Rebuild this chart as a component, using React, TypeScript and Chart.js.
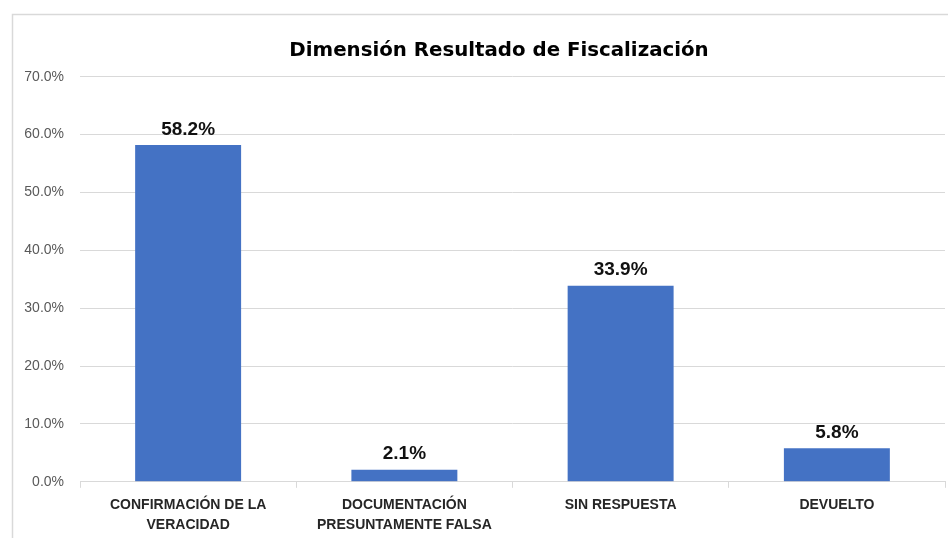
import React, { useEffect, useRef } from "react";
import { Chart, registerables } from "chart.js";

Chart.register(...registerables);

const categories: string[][] = [
  ["CONFIRMACIÓN DE LA", "VERACIDAD"],
  ["DOCUMENTACIÓN", "PRESUNTAMENTE FALSA"],
  ["SIN RESPUESTA"],
  ["DEVUELTO"],
];
const values: number[] = [58.2, 2.1, 33.9, 5.8];
const yTicks: number[] = [0, 10, 20, 30, 40, 50, 60, 70];
const titleText = "Dimensión Resultado de Fiscalización";

const CANVAS_W = 986;
const CANVAS_H = 543;

const framePlugin = {
  id: "frame",
  beforeDraw(chart: any) {
    const ctx = chart.ctx;
    ctx.save();
    ctx.fillStyle = "#ffffff";
    ctx.fillRect(0, 0, chart.width, chart.height);
    ctx.strokeStyle = "#d9d9d9";
    ctx.lineWidth = 1.5;
    ctx.beginPath();
    ctx.moveTo(12.5, chart.height);
    ctx.lineTo(12.5, 14.5);
    ctx.lineTo(chart.width, 14.5);
    ctx.stroke();
    ctx.restore();
  },
};

const dataLabelPlugin = {
  id: "dataLabels",
  afterDatasetsDraw(chart: any) {
    const ctx = chart.ctx;
    const meta = chart.getDatasetMeta(0);
    ctx.save();
    ctx.font = "bold 19px 'Liberation Sans', Arial, sans-serif";
    ctx.fillStyle = "#111111";
    ctx.textAlign = "center";
    ctx.textBaseline = "bottom";
    meta.data.forEach((bar: any, i: number) => {
      ctx.fillText(values[i].toFixed(1) + "%", bar.x, bar.y - 6);
    });
    ctx.restore();
  },
};

export default function App() {
  const ref = useRef<HTMLCanvasElement | null>(null);
  useEffect(() => {
    if (!ref.current) return;
    const chart = new Chart(ref.current, {
      type: "bar",
      data: {
        labels: categories,
        datasets: [
          {
            data: values,
            backgroundColor: "#4472C4",
            borderWidth: 0,
            categoryPercentage: 1,
            barPercentage: 0.49,
          },
        ],
      },
      options: {
        responsive: false,
        animation: false,
        devicePixelRatio: 1,
        layout: { padding: { left: 12, right: 0, top: 0, bottom: 0 } },
        plugins: {
          legend: { display: false },
          tooltip: { enabled: false },
          title: {
            display: true,
            text: titleText,
            color: "#000000",
            font: { family: "'DejaVu Sans', sans-serif", size: 19.8, weight: "bold", lineHeight: 1.2 },
            padding: { top: 39, bottom: 14 },
          },
        },
        scales: {
          x: {
            grid: {
              offset: true,
              drawOnChartArea: false,
              drawTicks: true,
              tickLength: 6,
              color: "#d9d9d9",
            },
            border: { display: true, color: "#d9d9d9" },
            ticks: {
              color: "#262626",
              padding: 8,
              maxRotation: 0,
              autoSkip: false,
              font: { family: "'Liberation Sans', Arial, sans-serif", size: 14, weight: "bold", lineHeight: 1.4 },
            },
          },
          y: {
            min: 0,
            max: 70,
            afterFit(scale: any) {
              scale.width = 68;
            },
            afterBuildTicks(scale: any) {
              scale.ticks = yTicks.map((v) => ({ value: v }));
            },
            grid: { color: "#d9d9d9", drawTicks: false, lineWidth: 1 },
            border: { display: false },
            ticks: {
              color: "#595959",
              padding: 16,
              font: { family: "'Liberation Sans', Arial, sans-serif", size: 14 },
              callback: (v: any) => Number(v).toFixed(1) + "%",
            },
          },
          yRight: {
            position: "right",
            display: true,
            afterFit(scale: any) {
              scale.width = CANVAS_W - 945;
            },
            grid: { display: false },
            border: { display: false },
            ticks: { display: false },
          },
        },
      },
      plugins: [framePlugin, dataLabelPlugin],
    });
    return () => chart.destroy();
  }, []);
  return (
    <div
      style={{ position: "fixed", left: 0, top: 0, width: 948, height: 538, overflow: "hidden" }}
    >
      <canvas
        ref={ref}
        width={CANVAS_W}
        height={CANVAS_H}
        style={{ display: "block", width: CANVAS_W, height: CANVAS_H }}
      />
    </div>
  );
}
